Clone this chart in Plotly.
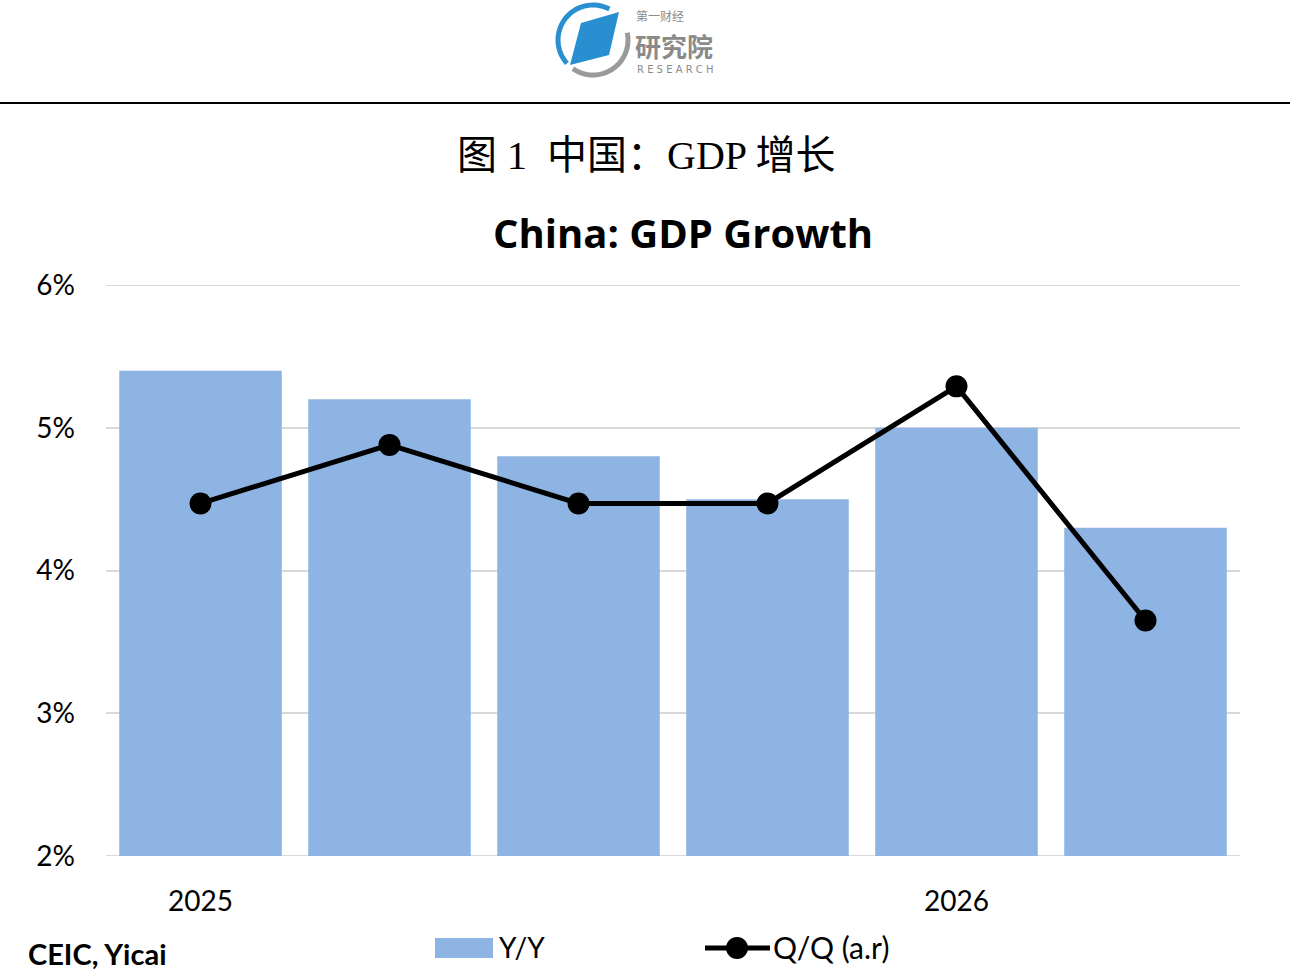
import numpy as np
import plotly.graph_objects as go

# quarterly data, Q1 2025 .. Q2 2026
quarters = ["2025 Q1", "2025 Q2", "2025 Q3", "2025 Q4", "2026 Q1", "2026 Q2"]
yy_growth = [5.4, 5.2, 4.8, 4.5, 5.0, 4.3]
qq_growth = [4.47, 4.88, 4.47, 4.47, 5.29, 3.65]
year_ticks = ["2025", "2026"]
year_tick_pos = [0, 4]
y_ticks = [2, 3, 4, 5, 6]

W, H = 1290, 977
L, R, T, B = 106, 50, 285, 121
PW, PH = W - L - R, H - T - B

BAR_BLUE = "#8EB4E3"
GRID = "#D9D9D9"
TXT_FONT = "Lato, Open Sans, sans-serif"


def px(x):
    return (x - L) / PW


def py(y):
    return (H - B - y) / PH


def arc_path(cx, cy, r, a0, a1, n=40):
    # angles in degrees, counter-clockwise on screen
    a = np.radians(np.linspace(a0, a1, n))
    xs = cx + r * np.cos(a)
    ys = cy - r * np.sin(a)
    return "M " + " L ".join(f"{px(x):.5f},{py(y):.5f}" for x, y in zip(xs, ys))


fig = go.Figure()

fig.add_trace(go.Bar(
    x=list(range(len(quarters))), y=yy_growth, name="Y/Y",
    marker=dict(color=BAR_BLUE, line=dict(width=0)),
    hovertext=quarters, showlegend=False,
))
fig.add_trace(go.Scatter(
    x=list(range(len(quarters))), y=qq_growth, name="Q/Q (a.r)",
    mode="lines+markers",
    line=dict(color="black", width=5),
    marker=dict(color="black", size=22),
    hovertext=quarters, showlegend=False,
))

shapes = []
annotations = []

# plotly skips gridlines sitting on the range edges, so add them back
for v in (y_ticks[0], y_ticks[-1]):
    shapes.append(dict(type="line", xref="paper", yref="y", layer="below",
                       x0=0, x1=1, y0=v, y1=v,
                       line=dict(color=GRID, width=2)))

# rule under the logo
shapes.append(dict(type="line", xref="paper", yref="paper",
                   x0=px(0), x1=px(W), y0=py(103), y1=py(103),
                   line=dict(color="black", width=2)))

# logo: ring + blue parallelogram
shapes.append(dict(type="path", xref="paper", yref="paper",
                   path=arc_path(593, 40, 35, 62, 222),
                   line=dict(color="#2A8FD0", width=5)))
shapes.append(dict(type="path", xref="paper", yref="paper",
                   path=arc_path(593, 40, 35, 235, 372),
                   line=dict(color="#9A9A9A", width=5)))
para = [(581, 23), (619, 12), (609, 55), (570, 65)]
shapes.append(dict(type="path", xref="paper", yref="paper",
                   path="M " + " L ".join(f"{px(x):.5f},{py(y):.5f}" for x, y in para) + " Z",
                   fillcolor="#2A8FD0", line=dict(width=0)))
annotations.append(dict(text="第一财经", xref="paper", yref="paper",
                        x=px(634), y=py(15), xanchor="left", yanchor="middle",
                        showarrow=False,
                        font=dict(family="Noto Sans CJK SC", size=12, color="#8A8A8A")))
annotations.append(dict(text="<b>研究院</b>", xref="paper", yref="paper",
                        x=px(633), y=py(45), xanchor="left", yanchor="middle",
                        showarrow=False,
                        font=dict(family="Noto Sans CJK SC", size=26, color="#8A8A8A")))
annotations.append(dict(text="R E S E A R C H", xref="paper", yref="paper",
                        x=px(635), y=py(70), xanchor="left", yanchor="middle",
                        showarrow=False,
                        font=dict(family="DejaVu Sans", size=10, color="#8A8A8A")))

# titles
annotations.append(dict(text="图 1  中国：GDP 增长", xref="paper", yref="paper",
                        x=px(646), y=py(155), xanchor="center", yanchor="middle",
                        showarrow=False,
                        font=dict(family="Liberation Serif, Noto Sans CJK SC", size=40, color="black")))
annotations.append(dict(text="<b>China: GDP Growth</b>", xref="paper", yref="paper",
                        x=px(683), y=py(232), xanchor="center", yanchor="middle",
                        showarrow=False,
                        font=dict(family="Open Sans", size=40, color="black")))

# source
annotations.append(dict(text="<b>CEIC, Yicai</b>", xref="paper", yref="paper",
                        x=px(26), y=py(953), xanchor="left", yanchor="middle",
                        showarrow=False,
                        font=dict(family=TXT_FONT, size=29, color="black")))

# legend
shapes.append(dict(type="rect", xref="paper", yref="paper",
                   x0=px(435), x1=px(493), y0=py(958), y1=py(938),
                   fillcolor=BAR_BLUE, line=dict(width=0)))
annotations.append(dict(text="Y/Y", xref="paper", yref="paper",
                        x=px(497), y=py(947), xanchor="left", yanchor="middle",
                        showarrow=False,
                        font=dict(family=TXT_FONT, size=28, color="black")))
shapes.append(dict(type="line", xref="paper", yref="paper",
                   x0=px(705), x1=px(770), y0=py(948), y1=py(948),
                   line=dict(color="black", width=5)))
shapes.append(dict(type="circle", xref="paper", yref="paper",
                   x0=px(726), x1=px(748), y0=py(959), y1=py(937),
                   fillcolor="black", line=dict(width=0)))
annotations.append(dict(text="Q/Q (a.r)", xref="paper", yref="paper",
                        x=px(771), y=py(947), xanchor="left", yanchor="middle",
                        showarrow=False,
                        font=dict(family=TXT_FONT, size=30, color="black")))

fig.update_layout(
    width=W, height=H,
    margin=dict(l=L, r=R, t=T, b=B),
    paper_bgcolor="white", plot_bgcolor="white",
    bargap=0.14,
    shapes=shapes, annotations=annotations,
    font=dict(family=TXT_FONT, color="black"),
)
fig.update_xaxes(
    range=[-0.5, len(quarters) - 0.5],
    tickvals=year_tick_pos, ticktext=year_ticks,
    showgrid=False, zeroline=False, showline=False, ticks="",
    tickfont=dict(family=TXT_FONT, size=28, color="black"),
    ticklabelstandoff=26,
)
fig.update_yaxes(
    range=[y_ticks[0], y_ticks[-1]], tickvals=y_ticks,
    ticktext=[f"{v}%" for v in y_ticks],
    showgrid=True, gridcolor=GRID, gridwidth=2,
    zeroline=False, showline=False, ticks="",
    tickfont=dict(family=TXT_FONT, size=28, color="black"),
    ticklabelstandoff=30,
)

fig.write_html("out.html", config={"displayModeBar": False},
               post_script="document.body.style.margin='0';")
